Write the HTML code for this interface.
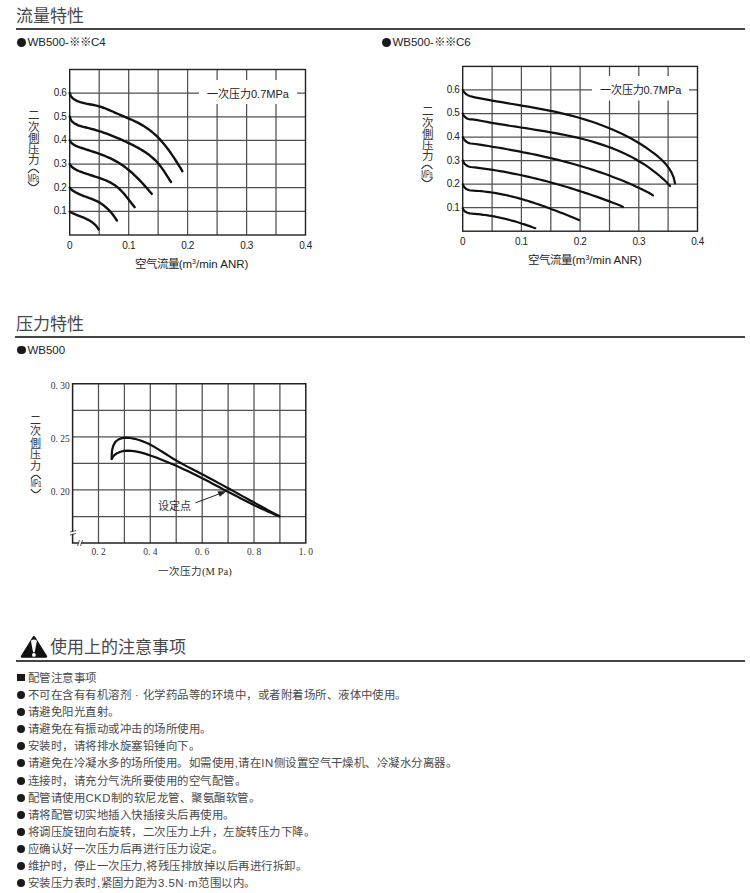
<!DOCTYPE html><html lang="zh-CN"><head><meta charset="utf-8"><title>流量特性</title><style>
html,body{margin:0;padding:0;background:#fff;}
body{width:750px;height:893px;position:relative;overflow:hidden;font-family:"Liberation Sans",sans-serif;color:#333;}
.abs{position:absolute;white-space:nowrap;}
.h{font-size:17px;line-height:20px;color:#484848;}
.rule{position:absolute;height:2px;background:#444;}
.sub{font-size:11.5px;line-height:14px;color:#222;}
.dot{display:inline-block;width:8px;height:8px;border-radius:50%;background:#1a1a1a;vertical-align:middle;margin-right:2px;position:relative;top:-1px;}
.sq{display:inline-block;width:8px;height:7px;background:#1a1a1a;vertical-align:middle;margin-right:2px;position:relative;top:-1px;}
.body{position:absolute;left:17px;top:670px;font-size:11.4px;line-height:17.1px;color:#4a4a4a;letter-spacing:0.48px;}
.body div{white-space:nowrap;height:17.1px;}
.body .dot,.body .sq{margin-right:3px;}
.sub .dot{width:8.8px;height:8.8px;top:-0.5px;margin-right:1.6px;}
svg{position:absolute;left:0;top:0;}
</style></head><body><div class="abs h" style="left:16px;top:7px;">流量特性</div><div class="rule" style="left:16px;top:28px;width:729px;"></div><div class="abs sub" style="left:17px;top:35px;"><span class="dot"></span>WB500-※※C4</div><div class="abs sub" style="left:382px;top:35px;"><span class="dot"></span>WB500-※※C6</div><div class="abs h" style="left:16px;top:314.5px;">压力特性</div><div class="rule" style="left:15px;top:336px;width:730px;"></div><div class="abs sub" style="left:17px;top:342.5px;"><span class="dot"></span>WB500</div><svg width="750" height="893" viewBox="0 0 750 893"><g stroke="#505050" stroke-width="1.25" fill="none"><line x1="99.2" y1="69.5" x2="99.2" y2="235.0"/><line x1="128.7" y1="69.5" x2="128.7" y2="235.0"/><line x1="158.1" y1="69.5" x2="158.1" y2="235.0"/><line x1="187.6" y1="69.5" x2="187.6" y2="235.0"/><line x1="217.1" y1="69.5" x2="217.1" y2="80.0"/><line x1="217.1" y1="104.0" x2="217.1" y2="235.0"/><line x1="246.6" y1="69.5" x2="246.6" y2="80.0"/><line x1="246.6" y1="104.0" x2="246.6" y2="235.0"/><line x1="276.0" y1="69.5" x2="276.0" y2="80.0"/><line x1="276.0" y1="104.0" x2="276.0" y2="235.0"/><line x1="69.7" y1="93.1" x2="199.0" y2="93.1"/><line x1="297.0" y1="93.1" x2="305.5" y2="93.1"/><line x1="69.7" y1="116.8" x2="305.5" y2="116.8"/><line x1="69.7" y1="140.4" x2="305.5" y2="140.4"/><line x1="69.7" y1="164.1" x2="305.5" y2="164.1"/><line x1="69.7" y1="187.7" x2="305.5" y2="187.7"/><line x1="69.7" y1="211.4" x2="305.5" y2="211.4"/></g><rect x="69.7" y="69.5" width="235.8" height="165.5" fill="none" stroke="#222" stroke-width="1.4"/><g stroke="#111" stroke-width="2.4" fill="none" stroke-linecap="round" stroke-linejoin="round"><path d="M69.7 92.9 70.7 95.9 72.5 98.1 74.8 99.8 77.4 101.1 80.2 102.1 83.2 102.9 86.2 103.6 89.3 104.2 92.3 104.8 95.4 105.4 98.4 106.2 101.3 107.0 104.2 108.0 107.0 109.1 109.8 110.3 112.6 111.5 115.4 112.8 118.1 114.0 120.9 115.2 123.7 116.4 126.5 117.6 129.4 118.8 132.2 120.0 135.0 121.3 137.7 122.6 140.4 124.1 143.0 125.6 145.6 127.2 148.1 128.9 150.5 130.7 152.8 132.6 155.1 134.6 157.3 136.7 159.5 138.9 161.5 141.2 163.5 143.5 165.5 145.9 167.3 148.3 169.2 150.8 171.0 153.3 172.7 155.9 174.4 158.4 176.1 161.0 177.7 163.6 179.3 166.2 180.9 168.7 182.4 171.3"/><path d="M69.7 116.5 70.5 119.2 71.9 121.3 73.8 122.9 75.9 124.2 78.2 125.3 80.7 126.1 83.3 126.9 86.0 127.5 88.7 128.1 91.3 128.8 94.0 129.5 96.6 130.3 99.1 131.1 101.7 131.9 104.2 132.8 106.7 133.7 109.2 134.6 111.6 135.6 114.1 136.6 116.5 137.6 119.0 138.7 121.4 139.7 123.8 140.8 126.2 142.0 128.7 143.1 131.1 144.2 133.5 145.4 135.9 146.7 138.2 147.9 140.5 149.2 142.8 150.6 145.0 152.0 147.2 153.5 149.4 155.1 151.4 156.8 153.4 158.5 155.4 160.3 157.2 162.3 159.0 164.3 160.6 166.4 162.2 168.6 163.8 170.8 165.3 173.1 166.7 175.4 168.2 177.6 169.6 179.8 171.0 182.0"/><path d="M69.7 140.3 70.9 142.3 72.4 143.7 74.0 144.9 75.9 145.9 77.8 146.7 79.8 147.4 81.8 148.0 83.8 148.7 85.9 149.4 87.9 150.0 90.0 150.7 92.0 151.3 94.0 152.0 96.1 152.7 98.1 153.4 100.1 154.1 102.2 154.9 104.2 155.7 106.1 156.5 108.1 157.3 110.1 158.2 112.0 159.1 113.9 160.1 115.7 161.1 117.6 162.1 119.4 163.2 121.2 164.4 122.9 165.6 124.6 166.8 126.3 168.1 128.0 169.5 129.6 170.8 131.3 172.2 132.9 173.6 134.4 175.1 136.0 176.6 137.5 178.1 139.0 179.6 140.5 181.1 142.0 182.7 143.4 184.3 144.8 185.9 146.3 187.5 147.7 189.1 149.0 190.7 150.4 192.3 151.8 193.9"/><path d="M69.7 164.1 70.6 165.6 71.7 166.8 73.0 167.8 74.4 168.7 75.8 169.6 77.3 170.3 78.9 171.0 80.4 171.6 82.0 172.2 83.6 172.8 85.2 173.3 86.9 173.9 88.5 174.4 90.1 175.0 91.8 175.5 93.4 176.0 95.1 176.6 96.8 177.1 98.4 177.7 100.0 178.2 101.7 178.8 103.3 179.4 104.9 180.0 106.5 180.7 108.0 181.4 109.6 182.1 111.1 182.9 112.5 183.8 114.0 184.7 115.4 185.6 116.7 186.6 118.0 187.7 119.3 188.9 120.5 190.0 121.7 191.3 122.9 192.5 124.0 193.8 125.1 195.1 126.2 196.5 127.3 197.8 128.4 199.2 129.4 200.6 130.5 201.9 131.5 203.3 132.6 204.6 133.6 205.9 134.7 207.2"/><path d="M69.7 187.6 70.4 188.7 71.4 189.5 72.3 190.2 73.3 190.9 74.4 191.6 75.4 192.2 76.5 192.8 77.6 193.4 78.7 193.9 79.8 194.4 81.0 194.9 82.2 195.4 83.3 195.8 84.5 196.3 85.7 196.7 86.9 197.2 88.1 197.6 89.3 198.0 90.4 198.5 91.6 198.9 92.8 199.4 94.0 199.9 95.1 200.4 96.3 200.9 97.4 201.4 98.5 202.0 99.6 202.6 100.6 203.3 101.7 204.0 102.7 204.7 103.7 205.4 104.6 206.2 105.6 207.0 106.5 207.8 107.4 208.7 108.3 209.5 109.2 210.4 110.1 211.4 110.9 212.3 111.7 213.3 112.5 214.3 113.3 215.3 114.0 216.3 114.8 217.4 115.5 218.4 116.2 219.5 116.9 220.5"/><path d="M69.7 211.6 70.3 212.1 70.9 212.4 71.6 212.7 72.2 213.0 72.9 213.3 73.5 213.6 74.2 213.9 74.9 214.2 75.6 214.5 76.2 214.8 76.9 215.0 77.6 215.3 78.3 215.6 79.0 215.8 79.7 216.1 80.4 216.4 81.1 216.6 81.7 216.9 82.4 217.2 83.1 217.5 83.8 217.7 84.5 218.0 85.1 218.3 85.8 218.6 86.5 218.9 87.1 219.3 87.8 219.6 88.4 219.9 89.1 220.3 89.7 220.6 90.3 221.0 90.9 221.4 91.5 221.8 92.1 222.2 92.7 222.7 93.3 223.1 93.8 223.6 94.4 224.1 94.9 224.6 95.4 225.1 95.9 225.7 96.4 226.2 96.9 226.8 97.3 227.4 97.8 228.1 98.2 228.7 98.6 229.4"/></g><g font-family="Liberation Sans, sans-serif" font-size="10" letter-spacing="-0.4" fill="#222"><text x="66.5" y="96.0" text-anchor="end">0.6</text><text x="66.5" y="119.7" text-anchor="end">0.5</text><text x="66.5" y="143.3" text-anchor="end">0.4</text><text x="66.5" y="167.0" text-anchor="end">0.3</text><text x="66.5" y="190.6" text-anchor="end">0.2</text><text x="66.5" y="214.3" text-anchor="end">0.1</text><text x="69.7" y="249.0" text-anchor="middle">0</text><text x="128.7" y="249.0" text-anchor="middle">0.1</text><text x="187.6" y="249.0" text-anchor="middle">0.2</text><text x="246.6" y="249.0" text-anchor="middle">0.3</text><text x="305.5" y="249.0" text-anchor="middle">0.4</text></g><text x="207.0" y="97.5" font-family="Liberation Sans, sans-serif" font-size="11" fill="#222">一次压力0.7MPa</text><text x="134.7" y="267.5" font-family="Liberation Sans, sans-serif" font-size="11.5" fill="#222">空气流量(m<tspan font-size="7" dy="-4">3</tspan><tspan dy="4">/min ANR)</tspan></text><g font-family="Liberation Sans, sans-serif" font-size="11.5" fill="#333"><text x="33.5" y="119.4" text-anchor="middle">二</text><text x="33.5" y="130.6" text-anchor="middle">次</text><text x="33.5" y="141.8" text-anchor="middle">側</text><text x="33.5" y="153.0" text-anchor="middle">压</text><text x="33.5" y="164.2" text-anchor="middle">力</text><path d="M28.0 173.0 Q33.5 165.5 39.0 173.0" stroke="#333" stroke-width="1.1" fill="none"/><path d="M28.0 182.0 Q33.5 189.5 39.0 182.0" stroke="#333" stroke-width="1.1" fill="none"/><text transform="translate(33.5 181.5) scale(0.5 1)" text-anchor="middle" font-size="11">MPa</text></g><g stroke="#505050" stroke-width="1.25" fill="none"><line x1="492.1" y1="66.4" x2="492.1" y2="231.2"/><line x1="521.4" y1="66.4" x2="521.4" y2="231.2"/><line x1="550.8" y1="66.4" x2="550.8" y2="231.2"/><line x1="580.1" y1="66.4" x2="580.1" y2="231.2"/><line x1="609.5" y1="66.4" x2="609.5" y2="76.0"/><line x1="609.5" y1="100.5" x2="609.5" y2="231.2"/><line x1="638.8" y1="66.4" x2="638.8" y2="76.0"/><line x1="638.8" y1="100.5" x2="638.8" y2="231.2"/><line x1="668.1" y1="66.4" x2="668.1" y2="76.0"/><line x1="668.1" y1="100.5" x2="668.1" y2="231.2"/><line x1="462.7" y1="89.9" x2="592.0" y2="89.9"/><line x1="689.0" y1="89.9" x2="697.5" y2="89.9"/><line x1="462.7" y1="113.5" x2="697.5" y2="113.5"/><line x1="462.7" y1="137.0" x2="697.5" y2="137.0"/><line x1="462.7" y1="160.6" x2="697.5" y2="160.6"/><line x1="462.7" y1="184.1" x2="697.5" y2="184.1"/><line x1="462.7" y1="207.7" x2="697.5" y2="207.7"/></g><rect x="462.7" y="66.4" width="234.8" height="164.8" fill="none" stroke="#222" stroke-width="1.4"/><g stroke="#111" stroke-width="2.2" fill="none" stroke-linecap="round" stroke-linejoin="round"><path d="M462.7 89.9 463.2 90.8 463.8 91.7 464.5 92.5 465.2 93.3 466.0 94.0 466.9 94.6 467.8 95.2 468.7 95.6 469.7 96.0 L469.7 96.0 474.9 97.4 480.3 98.4 485.7 99.4 491.0 100.4 496.4 101.3 501.7 102.2 507.0 103.1 512.3 104.0 517.6 104.9 522.9 105.8 528.2 106.7 533.5 107.6 538.8 108.6 544.0 109.6 549.3 110.6 554.5 111.7 559.8 112.9 565.0 114.1 570.3 115.4 575.5 116.8 580.8 118.3 586.0 119.9 591.3 121.5 596.5 123.3 601.7 125.2 606.8 127.2 611.9 129.3 616.9 131.5 621.9 133.8 626.8 136.3 631.6 138.8 636.3 141.5 640.9 144.3 645.5 147.2 649.8 150.3 654.1 153.4 658.2 156.7 662.1 160.2 665.7 164.0 668.9 168.1 671.6 172.6 673.7 177.7 675.0 183.4"/><path d="M462.7 113.6 463.3 114.8 464.0 115.9 464.9 116.9 465.9 117.8 467.1 118.5 468.3 119.0 469.6 119.3 470.9 119.4 472.3 119.3 L472.3 119.3 477.3 120.1 482.0 121.0 486.8 121.9 491.6 122.8 496.4 123.6 501.3 124.4 506.2 125.2 511.1 126.0 516.0 126.7 520.9 127.5 525.8 128.2 530.8 129.0 535.7 129.8 540.7 130.6 545.6 131.4 550.5 132.3 555.4 133.1 560.4 134.1 565.2 135.0 570.1 136.1 575.0 137.1 579.8 138.3 584.6 139.5 589.4 140.8 594.1 142.1 598.8 143.6 603.5 145.1 608.1 146.7 612.7 148.4 617.2 150.3 621.7 152.2 626.1 154.3 630.5 156.4 634.8 158.7 639.0 161.2 643.2 163.7 647.3 166.4 651.3 169.3 655.3 172.3 659.2 175.5 663.0 178.8 666.7 182.3 670.0 186.0"/><path d="M462.7 136.9 463.2 138.0 463.8 139.1 464.6 140.1 465.4 141.0 466.4 141.7 467.5 142.4 468.6 142.9 469.8 143.3 471.0 143.5 L471.0 143.5 475.4 144.0 479.8 144.6 484.1 145.3 488.5 146.0 492.8 146.8 497.2 147.5 501.5 148.2 505.9 149.0 510.3 149.8 514.6 150.6 519.0 151.4 523.3 152.3 527.7 153.1 532.0 154.0 536.4 154.9 540.7 155.9 545.0 156.9 549.3 157.8 553.7 158.9 558.0 159.9 562.3 161.0 566.6 162.1 570.8 163.3 575.1 164.5 579.4 165.7 583.6 167.0 587.8 168.2 592.1 169.6 596.3 171.0 600.5 172.4 604.6 173.8 608.8 175.3 612.9 176.9 617.0 178.5 621.1 180.1 625.2 181.8 629.3 183.5 633.3 185.3 637.3 187.2 641.3 189.1 645.3 191.0 649.3 193.0 653.0 195.4"/><path d="M462.7 160.5 463.2 161.6 463.8 162.7 464.6 163.7 465.4 164.6 466.4 165.3 467.5 166.0 468.6 166.5 469.8 166.8 471.0 167.0 L471.0 167.0 474.7 167.3 478.3 167.8 481.9 168.3 485.6 168.8 489.2 169.3 492.8 169.9 496.4 170.5 500.0 171.1 503.6 171.7 507.2 172.4 510.8 173.1 514.4 173.8 518.0 174.5 521.6 175.3 525.2 176.1 528.8 176.9 532.4 177.7 535.9 178.6 539.5 179.5 543.0 180.4 546.6 181.3 550.1 182.3 553.7 183.2 557.2 184.2 560.8 185.2 564.3 186.3 567.8 187.3 571.3 188.4 574.8 189.5 578.3 190.6 581.8 191.7 585.3 192.9 588.8 194.0 592.2 195.2 595.7 196.4 599.2 197.6 602.6 198.9 606.0 200.1 609.5 201.4 612.9 202.7 616.3 204.0 619.7 205.3 623.0 207.0"/><path d="M462.7 184.3 463.2 185.4 463.8 186.5 464.5 187.4 465.4 188.3 466.4 189.0 467.5 189.6 468.6 190.0 469.8 190.3 471.0 190.5 L471.0 190.5 473.6 190.7 476.2 190.8 478.9 191.0 481.5 191.2 484.1 191.5 486.7 191.8 489.3 192.1 491.9 192.5 494.4 192.9 497.0 193.3 499.6 193.8 502.1 194.3 504.7 194.8 507.3 195.4 509.8 196.0 512.3 196.6 514.9 197.2 517.4 197.9 519.9 198.6 522.4 199.3 525.0 200.1 527.5 200.8 530.0 201.6 532.5 202.4 535.0 203.2 537.5 204.0 539.9 204.9 542.4 205.8 544.9 206.6 547.3 207.5 549.8 208.4 552.3 209.4 554.7 210.3 557.2 211.2 559.6 212.2 562.1 213.1 564.5 214.1 566.9 215.1 569.3 216.1 571.8 217.0 574.2 218.0 576.6 219.0 579.0 220.0"/><path d="M462.7 208.2 463.2 209.3 463.8 210.3 464.6 211.1 465.5 211.8 466.5 212.4 467.6 212.8 468.7 213.2 469.9 213.4 471.0 213.5 L471.0 213.5 472.5 213.7 474.1 213.8 475.6 213.9 477.1 214.1 478.7 214.2 480.2 214.4 481.7 214.6 483.3 214.8 484.8 215.0 486.3 215.2 487.8 215.4 489.3 215.7 490.9 215.9 492.4 216.2 493.9 216.4 495.4 216.7 496.9 217.0 498.4 217.3 499.9 217.7 501.4 218.0 502.9 218.3 504.4 218.7 505.9 219.0 507.4 219.4 508.9 219.8 510.4 220.2 511.9 220.6 513.4 221.0 514.8 221.4 516.3 221.8 517.8 222.3 519.3 222.7 520.7 223.2 522.2 223.7 523.7 224.1 525.1 224.6 526.6 225.1 528.0 225.6 529.5 226.1 531.0 226.6 532.4 227.2 533.9 227.7 535.3 228.2"/></g><g font-family="Liberation Sans, sans-serif" font-size="10" letter-spacing="-0.4" fill="#222"><text x="459.5" y="92.8" text-anchor="end">0.6</text><text x="459.5" y="116.4" text-anchor="end">0.5</text><text x="459.5" y="139.9" text-anchor="end">0.4</text><text x="459.5" y="163.5" text-anchor="end">0.3</text><text x="459.5" y="187.0" text-anchor="end">0.2</text><text x="459.5" y="210.6" text-anchor="end">0.1</text><text x="462.7" y="245.0" text-anchor="middle">0</text><text x="521.4" y="245.0" text-anchor="middle">0.1</text><text x="580.1" y="245.0" text-anchor="middle">0.2</text><text x="638.8" y="245.0" text-anchor="middle">0.3</text><text x="697.5" y="245.0" text-anchor="middle">0.4</text></g><text x="599.5" y="93.5" font-family="Liberation Sans, sans-serif" font-size="11" fill="#222">一次压力0.7MPa</text><text x="528.0" y="263.5" font-family="Liberation Sans, sans-serif" font-size="11.5" fill="#222">空气流量(m<tspan font-size="7" dy="-4">3</tspan><tspan dy="4">/min ANR)</tspan></text><g font-family="Liberation Sans, sans-serif" font-size="11.5" fill="#333"><text x="427.0" y="115.4" text-anchor="middle">二</text><text x="427.0" y="126.6" text-anchor="middle">次</text><text x="427.0" y="137.8" text-anchor="middle">側</text><text x="427.0" y="149.0" text-anchor="middle">压</text><text x="427.0" y="160.2" text-anchor="middle">力</text><path d="M421.5 169.0 Q427.0 161.5 432.5 169.0" stroke="#333" stroke-width="1.1" fill="none"/><path d="M421.5 178.0 Q427.0 185.5 432.5 178.0" stroke="#333" stroke-width="1.1" fill="none"/><text transform="translate(427.0 177.5) scale(0.5 1)" text-anchor="middle" font-size="11">MPa</text></g><g stroke="#505050" stroke-width="1.25" fill="none"><line x1="98.5" y1="383.8" x2="98.5" y2="543.0"/><line x1="124.4" y1="383.8" x2="124.4" y2="543.0"/><line x1="150.3" y1="383.8" x2="150.3" y2="543.0"/><line x1="176.2" y1="383.8" x2="176.2" y2="543.0"/><line x1="202.2" y1="383.8" x2="202.2" y2="543.0"/><line x1="228.1" y1="383.8" x2="228.1" y2="543.0"/><line x1="254.0" y1="383.8" x2="254.0" y2="543.0"/><line x1="279.9" y1="383.8" x2="279.9" y2="543.0"/><line x1="72.6" y1="410.3" x2="305.8" y2="410.3"/><line x1="72.6" y1="436.9" x2="305.8" y2="436.9"/><line x1="72.6" y1="463.4" x2="305.8" y2="463.4"/><line x1="72.6" y1="489.9" x2="305.8" y2="489.9"/><line x1="72.6" y1="516.5" x2="305.8" y2="516.5"/></g><path d="M72.6 383.8 H305.8 V543.0 H72.6 V383.8 Z" fill="none" stroke="#222" stroke-width="1.5"/><g stroke="#fff" stroke-width="2.2"><line x1="70" y1="533.5" x2="75" y2="532"/><line x1="79" y1="546" x2="81" y2="540"/></g><g stroke="#333" stroke-width="0.8"><line x1="70" y1="532" x2="76" y2="530.5"/><line x1="70" y1="535" x2="76" y2="533.5"/><line x1="77.5" y1="546" x2="79.5" y2="540"/><line x1="80.5" y1="546" x2="82.5" y2="540"/></g><g stroke="#111" stroke-width="2.2" fill="none" stroke-linecap="round" stroke-linejoin="round"><path d="M111.7 459.0 111.7 454.8 112.1 450.0 113.3 445.6 115.4 441.9 118.3 439.5 121.9 438.1 126.0 437.7 130.3 438.0 134.7 438.8 138.9 440.0 143.0 441.4 147.0 443.1 150.9 445.1 154.7 447.1 158.4 449.4 162.2 451.7 165.8 454.0 169.5 456.4 173.2 458.7 176.9 460.9 180.7 463.0 184.5 465.1 188.3 467.1 192.1 469.0 195.9 471.0 199.7 473.0 203.5 474.9 207.3 477.0 211.1 479.0 214.9 481.0 218.7 483.1 222.5 485.1 226.3 487.2 230.1 489.3 233.9 491.4 237.7 493.5 241.5 495.6 245.3 497.6 249.0 499.7 252.8 501.8 256.6 503.9 260.4 506.0 264.2 508.0 268.0 510.1 271.8 512.1 275.6 514.2 279.3 516.3"/><path d="M111.7 459.0 113.9 455.5 117.1 453.2 120.5 451.8 124.1 450.9 127.8 450.6 131.6 450.8 135.4 451.3 139.3 452.1 143.2 453.1 147.1 454.4 150.9 455.7 154.7 457.0 158.5 458.4 162.3 459.9 166.0 461.4 169.7 462.9 173.3 464.5 176.9 466.1 180.5 467.7 184.1 469.4 187.7 471.1 191.2 472.8 194.7 474.5 198.2 476.3 201.7 478.0 205.2 479.8 208.7 481.6 212.2 483.4 215.6 485.2 219.1 487.0 222.5 488.9 226.0 490.7 229.5 492.5 232.9 494.3 236.4 496.1 239.9 497.9 243.4 499.7 246.9 501.5 250.4 503.2 253.9 505.0 257.5 506.7 261.1 508.4 264.7 510.1 268.3 511.7 272.0 513.3 275.6 514.9 279.3 516.3"/></g><line x1="195.6" y1="502.8" x2="220" y2="493.6" stroke="#222" stroke-width="1"/><path d="M226.5 491.2 L217.5 491.3 L219.8 496.8 Z" fill="#222"/><g font-family="Liberation Serif, serif" font-size="9.5" fill="#333"><text x="69.7" y="389.3" text-anchor="end">0. 30</text><text x="69.7" y="442.4" text-anchor="end">0. 25</text><text x="69.7" y="495.4" text-anchor="end">0. 20</text><text x="98.5" y="555" text-anchor="middle">0. 2</text><text x="150.3" y="555" text-anchor="middle">0. 4</text><text x="202.2" y="555" text-anchor="middle">0. 6</text><text x="254.0" y="555" text-anchor="middle">0. 8</text><text x="305.8" y="555" text-anchor="middle">1. 0</text></g><text x="158" y="574.8" font-family="Liberation Serif, serif" font-size="10.6" fill="#333">一次压力(M Pa)</text><text x="158" y="510" font-family="Liberation Serif, serif" font-size="11" fill="#333">设定点</text><g font-family="Liberation Serif, serif" font-size="11" fill="#333"><text x="35.8" y="424.0" text-anchor="middle">二</text><text x="35.8" y="435.4" text-anchor="middle">次</text><text x="35.8" y="446.8" text-anchor="middle">側</text><text x="35.8" y="458.2" text-anchor="middle">压</text><text x="35.8" y="469.6" text-anchor="middle">力</text><path d="M30.8 479.0 Q35.8 471.5 40.8 479.0" stroke="#333" stroke-width="1.1" fill="none"/><path d="M30.8 489.0 Q35.8 496.5 40.8 489.0" stroke="#333" stroke-width="1.1" fill="none"/><text transform="translate(35.8 487.2) scale(0.5 1)" text-anchor="middle" font-size="10" font-family="Liberation Sans, sans-serif">MPa</text></g><path d="M33.9 637.4 L45.8 656.4 L22.2 656.4 Z" fill="#111" stroke="#111" stroke-width="2.8" stroke-linejoin="round"/><path d="M31 641.6 Q31 639.4 33.9 639.4 Q36.8 639.4 36.8 641.6 L34.7 652.3 L33.1 652.3 Z" fill="#fff"/><circle cx="33.9" cy="654.9" r="1.9" fill="#fff"/></svg><div class="abs h" style="left:49.5px;top:638px;">使用上的注意事项</div><div class="rule" style="left:16px;top:660px;width:729px;"></div><div class="body"><div><span class="sq"></span>配管注意事项</div><div><span class="dot"></span>不可在含有有机溶剂 · 化学药品等的环境中，或者附着场所、液体中使用。</div><div><span class="dot"></span>请避免阳光直射。</div><div><span class="dot"></span>请避免在有振动或冲击的场所使用。</div><div><span class="dot"></span>安装时，请将排水旋塞铅锤向下。</div><div><span class="dot"></span>请避免在冷凝水多的场所使用。如需使用,请在IN侧设置空气干燥机、冷凝水分离器。</div><div><span class="dot"></span>连接时，请充分气洗所要使用的空气配管。</div><div><span class="dot"></span>配管请使用CKD制的软尼龙管、聚氨酯软管。</div><div><span class="dot"></span>请将配管切实地插入快插接头后再使用。</div><div><span class="dot"></span>将调压旋钮向右旋转，二次压力上升，左旋转压力下降。</div><div><span class="dot"></span>应确认好一次压力后再进行压力设定。</div><div><span class="dot"></span>维护时，停止一次压力,将残压排放掉以后再进行拆卸。</div><div><span class="dot"></span>安装压力表时,紧固力距为3.5N·m范围以内。</div></div></body></html>
